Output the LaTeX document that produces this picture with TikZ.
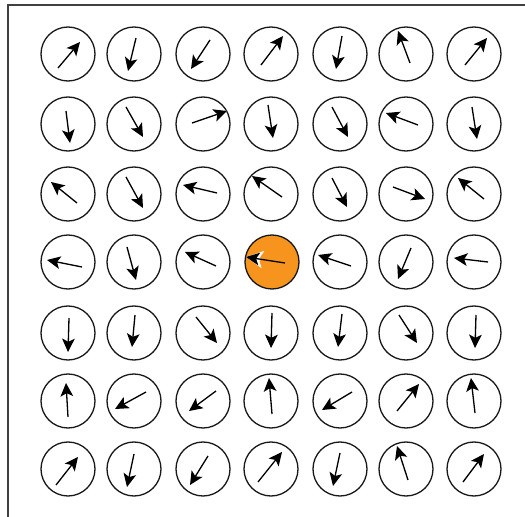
\documentclass[tikz,border=0pt]{standalone}
\usetikzlibrary{arrows.meta}
\definecolor{hotspot}{HTML}{F7941E}
\begin{document}
\begin{tikzpicture}[x=0.02cm, y=-0.02cm,
    cell/.style={circle, draw=black!90, line width=0.75pt, minimum size=1.08cm, inner sep=0pt},
    spin/.style={line width=0.75pt, -{Stealth[length=7.6pt, width=7.2pt, inset=1.8pt]},
      preaction={draw=white, line width=1.8pt, shorten <=0.5cm,
        -{Stealth[length=9.6pt, width=9.6pt, inset=2.2pt]}}},
    frame/.style={line width=0.9pt, black!75}]
    \useasboundingbox (0,0) rectangle (525,517);
    % Frame
    \draw[frame] (8,517) -- (8,5) -- (525,5);

    % Row 1
    \foreach \c/\x/\tx/\ty/\hx/\hy in {1/68/-10/14/12/-12, 2/134/2/-16/-6/17,
        3/203/7/-14/-12/15, 4/271/-10/11/12/-18, 5/340/2/-18/-4/15,
        6/406/4/9/-8/-23, 7/474/-9/11/13/-16} {
      \node[cell] (c1\c) at (\x,54) {};
      \draw[spin] ([shift={(\tx,\ty)}]c1\c.center) -- ([shift={(\hx,\hy)}]c1\c.center);
    }

    % Row 2
    \foreach \c/\x/\tx/\ty/\hx/\hy in {1/68/-2/-13/2/19, 2/134/-8/-17/9/13,
        3/203/-11/-1/24/-13, 4/271/-3/-19/2/14, 5/340/-8/-17/8/13,
        6/406/12/1/-20/-11, 7/474/-2/-17/3/15} {
      \node[cell] (c2\c) at (\x,124) {};
      \draw[spin] ([shift={(\tx,\ty)}]c2\c.center) -- ([shift={(\hx,\hy)}]c2\c.center);
    }

    % Row 3
    \foreach \c/\x/\tx/\ty/\hx/\hy in {1/68/9/9/-17/-12, 2/134/-8/-17/9/14,
        3/203/14/-1/-20/-9, 4/271/11/3/-19/-18, 5/340/-8/-16/7/13,
        6/406/-13/-7/19/5, 7/474/10/5/-16/-16} {
      \node[cell] (c3\c) at (\x,194) {};
      \draw[spin] ([shift={(\tx,\ty)}]c3\c.center) -- ([shift={(\hx,\hy)}]c3\c.center);
    }

    % Row 4 (with the marked site)
    \foreach \c/\x/\col/\tx/\ty/\hx/\hy in {1/68/white/14/5/-21/-2, 2/134/white/-7/-15/2/18,
        3/203/white/13/4/-18/-10, 4/272/hotspot/13/1/-26/-5, 5/340/white/11/4/-22/-7,
        6/406/white/5/-14/-8/17, 7/474/white/14/0/-20/-4} {
      \node[cell, fill=\col] (c4\c) at (\x,262) {};
      \draw[spin] ([shift={(\tx,\ty)}]c4\c.center) -- ([shift={(\hx,\hy)}]c4\c.center);
    }

    % Row 5
    \foreach \c/\x/\tx/\ty/\hx/\hy in {1/68/1/-15/0/19, 2/134/1/-18/-2/14,
        3/203/-7/-16/14/10, 4/271/1/-20/0/15, 5/340/2/-19/-2/14,
        6/406/-7/-18/11/10, 7/474/2/-18/1/15} {
      \node[cell] (c5\c) at (\x,333) {};
      \draw[spin] ([shift={(\tx,\ty)}]c5\c.center) -- ([shift={(\hx,\hy)}]c5\c.center);
    }

    % Row 6
    \foreach \c/\x/\tx/\ty/\hx/\hy in {1/68/0/16/-2/-18, 2/134/12/-9/-19/8,
        3/203/13/-10/-14/10, 4/271/1/13/-2/-23, 5/340/12/-9/-18/9,
        6/406/-9/10/13/-17, 7/474/1/12/-3/-23} {
      \node[cell] (c6\c) at (\x,401) {};
      \draw[spin] ([shift={(\tx,\ty)}]c6\c.center) -- ([shift={(\hx,\hy)}]c6\c.center);
    }

    % Row 7
    \foreach \c/\x/\tx/\ty/\hx/\hy in {1/68/-12/16/10/-12, 2/134/0/-15/-7/18,
        3/203/5/-13/-13/16, 4/271/-13/13/11/-17, 5/340/0/-16/-7/17,
        6/406/2/11/-9/-23, 7/474/-11/13/10/-15} {
      \node[cell] (c7\c) at (\x,469) {};
      \draw[spin] ([shift={(\tx,\ty)}]c7\c.center) -- ([shift={(\hx,\hy)}]c7\c.center);
    }
  \end{tikzpicture}
\end{document}
